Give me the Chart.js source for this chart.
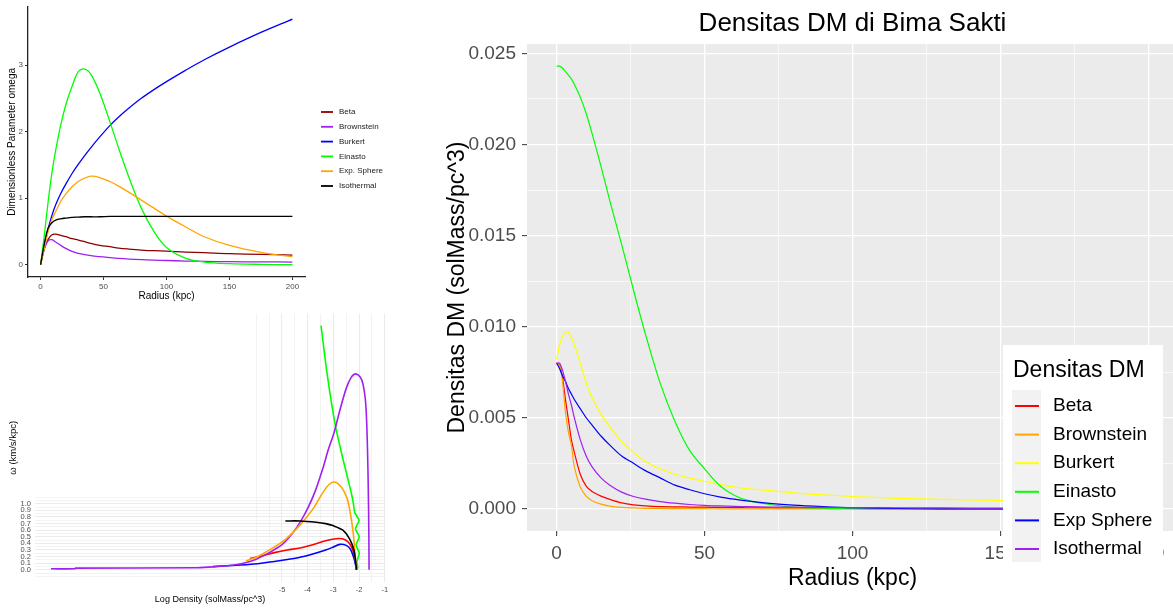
<!DOCTYPE html>
<html>
<head>
<meta charset="utf-8">
<script src="https://cdn.jsdelivr.net/npm/chart.js@4"></script>
<style>
  html, body { margin: 0; padding: 0; background: #fff; overflow: hidden; width: 1173px; height: 609px; }
  .box { position: absolute; }
</style>
</head>
<body>
<div class="box" style="left:0;top:0;width:400px;height:310px"><canvas id="omegaChart" width="400" height="310"></canvas></div>
<div class="box" style="left:0;top:305px;width:400px;height:304px"><canvas id="logChart" width="400" height="304"></canvas></div>
<div class="box" style="left:430px;top:0;width:760px;height:609px"><canvas id="densChart" width="760" height="609"></canvas></div>
<script>
// ---- omega vs radius (top left) ----
const omegaNames = ['Beta', 'Brownstein', 'Burkert', 'Einasto', 'Exp. Sphere', 'Isothermal'];
const omegaColors = ['#8B0000', '#A020F0', '#0000FF', '#00FF00', '#FFA500', '#000000'];
const omegaRadius = [0, 3, 6, 9, 12, 16, 20, 25, 30, 35, 40, 47, 55, 62, 70, 80, 90, 100, 115, 130, 150, 175, 200];
const omegaBeta = [0, 0.24, 0.38, 0.45, 0.46, 0.44, 0.42, 0.39, 0.37, 0.345, 0.32, 0.29, 0.27, 0.25, 0.235, 0.22, 0.21, 0.205, 0.19, 0.18, 0.165, 0.155, 0.145];
const omegaBrownstein = [0, 0.25, 0.36, 0.375, 0.34, 0.29, 0.245, 0.2, 0.17, 0.15, 0.135, 0.12, 0.105, 0.095, 0.085, 0.075, 0.068, 0.063, 0.055, 0.05, 0.045, 0.042, 0.04];
const omegaBurkert = [0, 0.3, 0.54, 0.74, 0.9, 1.07, 1.21, 1.37, 1.51, 1.64, 1.76, 1.92, 2.09, 2.22, 2.35, 2.5, 2.63, 2.75, 2.92, 3.08, 3.27, 3.49, 3.69];
const omegaEinasto = [0, 0.45, 0.95, 1.38, 1.72, 2.1, 2.4, 2.68, 2.9, 2.94, 2.86, 2.58, 2.15, 1.75, 1.32, 0.85, 0.5, 0.26, 0.1, 0.04, 0.015, 0.005, 0];
const omegaExpSphere = [0, 0.25, 0.5, 0.68, 0.8, 0.95, 1.06, 1.17, 1.25, 1.3, 1.33, 1.31, 1.25, 1.18, 1.09, 0.97, 0.85, 0.73, 0.57, 0.42, 0.29, 0.185, 0.12];
const omegaIsothermal = [0, 0.32, 0.55, 0.63, 0.67, 0.69, 0.70, 0.71, 0.715, 0.72, 0.72, 0.72, 0.725, 0.725, 0.725, 0.725, 0.725, 0.725, 0.725, 0.725, 0.725, 0.725, 0.725];
const omegaXTicks = [0, 50, 100, 150, 200];
const omegaYTicks = [0, 1, 2, 3];

// ---- omega vs log density (bottom left) ----
const logBetaX = [-6.25, -5.8, -5.3, -4.8, -4.3, -3.8, -3.3, -2.9, -2.65, -2.45, -2.3, -2.2, -2.14, -2.1];
const logBetaY = [0.17, 0.21, 0.26, 0.30, 0.33, 0.38, 0.44, 0.47, 0.47, 0.43, 0.35, 0.24, 0.12, 0];
const logBrownX = [-7.7, -7.0, -6.3, -5.8, -5.3, -4.8, -4.3, -3.8, -3.3, -3.0, -2.75, -2.5, -2.35, -2.22, -2.15, -2.1];
const logBrownY = [0.05, 0.065, 0.08, 0.1, 0.125, 0.155, 0.19, 0.24, 0.3, 0.345, 0.385, 0.37, 0.32, 0.2, 0.1, 0];
const logBurkertX = [-3.48, -3.38, -3.28, -3.15, -3.02, -2.9, -2.76, -2.63, -2.5, -2.4, -2.3, -2.22, -2.17, -2.0, -2.14, -1.99, -2.12, -1.99, -2.09, -2.05, -2.09];
const logBurkertY = [3.70, 3.38, 3.07, 2.72, 2.4, 2.14, 1.9, 1.68, 1.48, 1.32, 1.16, 1.0, 0.87, 0.75, 0.62, 0.5, 0.38, 0.25, 0.12, 0.04, 0];
const logEinastoX = [-14.0, -13.05, -13.05, -8.4, -7.7, -7.0, -6.5, -6.0, -5.5, -5.0, -4.6, -4.3, -4.0, -3.7, -3.4, -3.2, -2.98, -2.76, -2.5, -2.3, -2.13, -1.95, -1.85, -1.76, -1.71, -1.67, -1.64, -1.62, -1.61];
const logEinastoY = [0.015, 0.015, 0.025, 0.03, 0.045, 0.065, 0.1, 0.16, 0.26, 0.38, 0.55, 0.72, 0.93, 1.2, 1.55, 1.82, 2.07, 2.4, 2.75, 2.92, 2.97, 2.92, 2.82, 2.6, 2.3, 1.8, 1.2, 0.6, 0];
const logExpX = [-6.41, -6.0, -5.63, -5.2, -4.84, -4.32, -3.8, -3.41, -3.15, -2.96, -2.8, -2.63, -2.44, -2.24, -2.14, -2.1];
const logExpY = [0.135, 0.19, 0.27, 0.37, 0.47, 0.67, 0.92, 1.17, 1.3, 1.33, 1.3, 1.22, 1.05, 0.6, 0.15, 0];
const logIsoX = [-4.87, -4.3, -3.67, -3.3, -3.02, -2.63, -2.37, -2.2, -2.14, -2.1];
const logIsoY = [0.74, 0.74, 0.72, 0.7, 0.67, 0.6, 0.47, 0.3, 0.15, 0];
const logColors = ['#FF0000', '#0000FF', '#00FF00', '#A020F0', '#FFA500', '#000000'];
const logXTicks = [-5, -4, -3, -2, -1];
const logXGrid = [-6, -5.5, -5, -4.5, -4, -3.5, -3, -2.5, -2, -1.5, -1];
const logYTicks = [0, 0.1, 0.2, 0.3, 0.4, 0.5, 0.6, 0.7, 0.8, 0.9, 1.0];

// ---- Densitas DM (right) ----
const densNames = ['Beta', 'Brownstein', 'Burkert', 'Einasto', 'Exp Sphere', 'Isothermal'];
const densColors = ['#FF0000', '#FFA500', '#FFFF00', '#00FF00', '#0000FF', '#A020F0'];
const densRadius = [0, 1, 2, 3, 4, 5, 6, 8, 10, 12, 15, 18, 22, 26, 30, 35, 40, 45, 50, 55, 60, 65, 72, 80, 90, 100, 115, 130, 150, 175, 200];
const densBeta = [0.0080, 0.0079, 0.0072, 0.0060, 0.0049, 0.0038, 0.0031, 0.0019, 0.00125, 0.00095, 0.00070, 0.00052, 0.00033, 0.00022, 0.00016, 0.00012, 0.00011, 0.00010, 0.00009, 0.00008, 0.00007, 0.00006, 0.00005, 0.00004, 0.00003, 0.00002, 0.00001, 0, 0, 0, 0];
const densBrownstein = [0.0080, 0.0079, 0.0070, 0.0053, 0.0042, 0.0035, 0.0023, 0.0012, 0.0007, 0.00045, 0.00026, 0.00015, 0.00008, 0.00005, 0.00003, 0.00002, 0.00001, 0.00001, 0.00001, 0, 0, 0, 0, 0, 0, 0, 0, 0, 0, 0, 0];
const densBurkert = [0.0082, 0.0090, 0.0095, 0.0097, 0.0097, 0.0094, 0.0090, 0.0080, 0.0069, 0.0061, 0.0052, 0.0045, 0.0037, 0.0031, 0.0026, 0.0022, 0.0019, 0.0017, 0.0015, 0.00135, 0.0012, 0.0011, 0.0010, 0.00088, 0.00077, 0.00068, 0.00058, 0.00052, 0.00046, 0.00038, 0.00031];
const densEinasto = [0.0243, 0.0243, 0.0242, 0.0240, 0.0238, 0.0236, 0.0233, 0.0226, 0.0217, 0.0206, 0.0188, 0.0169, 0.0145, 0.0120, 0.0096, 0.0069, 0.0048, 0.0032, 0.0022, 0.0013, 0.00075, 0.00045, 0.00024, 0.0001, 0.00004, 0.00001, 0, 0, 0, 0, 0];
const densExpSphere = [0.0080, 0.0077, 0.0073, 0.0070, 0.0066, 0.0063, 0.0060, 0.0055, 0.0050, 0.0046, 0.0040, 0.0035, 0.0029, 0.0025, 0.0021, 0.0017, 0.0013, 0.00105, 0.00083, 0.00066, 0.00053, 0.00042, 0.0003, 0.0002, 0.00012, 0.00006, 0.00002, 0, 0, 0, 0];
const densIsothermal = [0.0080, 0.0080, 0.0076, 0.0070, 0.0063, 0.0057, 0.0050, 0.0038, 0.0029, 0.0023, 0.0017, 0.0013, 0.00092, 0.00068, 0.00053, 0.00040, 0.00031, 0.00024, 0.00019, 0.00016, 0.00014, 0.00012, 0.0001, 0.00009, 0.00008, 0.00007, 0.00006, 0.00005, 0.00004, 0.00003, 0.00003];
const densXTicks = [0, 50, 100, 150, 200];
const densYTicks = [0, 0.005, 0.01, 0.015, 0.02, 0.025];

const FONT = "'Liberation Sans', Arial, Helvetica, sans-serif";
Chart.defaults.font.family = FONT;
Chart.defaults.animation = false;
Chart.defaults.plugins.legend.display = false;
Chart.defaults.plugins.tooltip.enabled = false;

const zip = (xs, ys) => xs.map((x, i) => ({ x: x, y: ys[i] }));
const near = (list, v) => list.some(t => Math.abs(t - v) < 1e-9);
const withMids = list => {
  const out = [];
  list.forEach((t, i) => { out.push(t); if (i < list.length - 1) out.push((t + list[i + 1]) / 2); });
  return out;
};

// grey panel behind the grid
const panelBg = {
  id: 'panelBg',
  beforeDraw(chart, args, opts) {
    if (!opts.color) return;
    const a = chart.chartArea, ctx = chart.ctx;
    ctx.save();
    ctx.fillStyle = opts.color;
    ctx.fillRect(a.left, a.top, a.right - a.left, a.bottom - a.top);
    ctx.restore();
  }
};

// ggplot-like legend drawn from the datasets
function makeLegend(cfg) {
  return {
    id: 'keyLegend',
    afterDraw(chart) {
      const ctx = chart.ctx;
      ctx.save();
      if (cfg.box) {
        ctx.fillStyle = '#FFFFFF';
        ctx.fillRect(cfg.box.x, cfg.box.y, cfg.box.w, cfg.box.h);
      }
      if (cfg.title) {
        ctx.fillStyle = '#000';
        ctx.font = cfg.titleFont;
        ctx.textBaseline = 'middle';
        ctx.fillText(cfg.title, cfg.titleX, cfg.titleY);
      }
      if (cfg.keyBg) {
        ctx.fillStyle = cfg.keyBg.color;
        ctx.fillRect(cfg.keyBg.x, cfg.keyBg.y, cfg.keyBg.w, cfg.keyBg.h);
      }
      chart.data.datasets.forEach((ds, i) => {
        const y = cfg.y0 + i * cfg.step;
        ctx.strokeStyle = ds.borderColor;
        ctx.lineWidth = cfg.lineWidth;
        ctx.beginPath();
        ctx.moveTo(cfg.x0, y);
        ctx.lineTo(cfg.x1, y);
        ctx.stroke();
        ctx.fillStyle = cfg.textColor;
        ctx.font = cfg.font;
        ctx.textBaseline = 'middle';
        ctx.fillText(ds.label, cfg.textX, y);
      });
      ctx.restore();
    }
  };
}

// ---------- top left ----------
const omegaSeries = [omegaBeta, omegaBrownstein, omegaBurkert, omegaEinasto, omegaExpSphere, omegaIsothermal];
new Chart(document.getElementById('omegaChart'), {
  type: 'line',
  data: {
    datasets: omegaSeries.map((vals, i) => ({
      label: omegaNames[i],
      data: zip(omegaRadius, vals),
      borderColor: omegaColors[i],
      borderWidth: 1.3,
      pointRadius: 0,
      tension: 0.35,
      order: omegaSeries.length - i
    }))
  },
  options: {
    responsive: false,
    layout: { padding: { top: 6, right: 95, bottom: 0, left: 0 } },
    scales: {
      x: {
        type: 'linear', min: -10, max: 210,
        afterBuildTicks: s => { s.ticks = omegaXTicks.map(v => ({ value: v })); },
        afterFit: s => { s.height = 33; },
        ticks: { autoSkip: false, maxRotation: 0, color: '#4D4D4D', font: { size: 8 }, padding: 2 },
        grid: { drawOnChartArea: false, tickLength: 3, tickColor: '#333', tickWidth: 1 },
        border: { display: true, color: '#222', width: 1.3 },
        title: { display: true, text: 'Radius (kpc)', color: '#000', font: { size: 10 }, padding: { top: 0, bottom: 8 } }
      },
      y: {
        type: 'linear', min: -0.185, max: 3.875,
        afterBuildTicks: s => { s.ticks = omegaYTicks.map(v => ({ value: v })); },
        afterFit: s => { s.width = 28; },
        ticks: { autoSkip: false, color: '#4D4D4D', font: { size: 8 }, padding: 2 },
        grid: { drawOnChartArea: false, tickLength: 3, tickColor: '#333', tickWidth: 1 },
        border: { display: true, color: '#222', width: 1.3 },
        title: { display: true, text: 'Dimensionless Parameter omega', color: '#000', font: { size: 10 }, padding: { top: 6, bottom: 0 } }
      }
    }
  },
  plugins: [makeLegend({
    y0: 112, step: 14.8, x0: 321, x1: 333, textX: 339, lineWidth: 1.8,
    font: '8px ' + FONT, textColor: '#1A1A1A'
  })]
});

// ---------- bottom left ----------
const logSeries = [[logBetaX, logBetaY], [logBrownX, logBrownY], [logBurkertX, logBurkertY],
                   [logEinastoX, logEinastoY], [logExpX, logExpY], [logIsoX, logIsoY]];
const logYGrid = [-0.1, -0.05].concat(withMids(logYTicks), [1.05, 1.1]);
new Chart(document.getElementById('logChart'), {
  type: 'line',
  data: {
    datasets: logSeries.map((s, i) => ({
      label: omegaNames[i],
      data: zip(s[0], s[1]),
      borderColor: logColors[i],
      borderWidth: 1.6,
      pointRadius: 0,
      tension: i === 2 ? 0.15 : 0.3,
      order: logSeries.length - i
    }))
  },
  options: {
    responsive: false,
    layout: { padding: { top: 6, right: 15, bottom: 0, left: 0 } },
    scales: {
      x: {
        type: 'linear', min: -14.62, max: -0.99,
        afterBuildTicks: s => { s.ticks = logXGrid.map(v => ({ value: v })); },
        afterFit: s => { s.height = 27; },
        ticks: { autoSkip: false, maxRotation: 0, color: '#4D4D4D', font: { size: 7.5 }, padding: 3,
                 callback: v => near(logXTicks, v) ? String(v) : '' },
        grid: { drawTicks: false, color: '#EBEBEB', lineWidth: c => near(logXTicks, c.tick.value) ? 1.1 : 0.6 },
        border: { display: false },
        title: { display: true, text: 'Log Density (solMass/pc^3)', color: '#000', font: { size: 9 }, padding: { top: 0, bottom: 4 } }
      },
      y: {
        type: 'linear', min: -0.185, max: 3.885,
        afterBuildTicks: s => { s.ticks = logYGrid.map(v => ({ value: v })); },
        afterFit: s => { s.width = 35; },
        ticks: { autoSkip: false, color: '#4D4D4D', font: { size: 7.5 }, padding: 4,
                 callback: v => near(logYTicks, v) ? v.toFixed(1) : '' },
        grid: { drawTicks: false, color: '#EBEBEB', lineWidth: c => near(logYTicks, c.tick.value) ? 1.1 : 0.6 },
        border: { display: false },
        title: { display: true, text: 'ω (km/s/kpc)', color: '#000', font: { size: 9.5 }, padding: { top: 8, bottom: 0 } }
      }
    }
  }
});

// ---------- right: Densitas DM ----------
const densSeries = [densBeta, densBrownstein, densBurkert, densEinasto, densExpSphere, densIsothermal];
const densXGrid = withMids(densXTicks);
const densYGrid = withMids(densYTicks);
new Chart(document.getElementById('densChart'), {
  type: 'line',
  data: {
    datasets: densSeries.map((vals, i) => ({
      label: densNames[i],
      data: zip(densRadius, vals),
      borderColor: densColors[i],
      borderWidth: 1.2,
      pointRadius: 0,
      tension: 0.3,
      order: densSeries.length - i
    }))
  },
  options: {
    responsive: false,
    layout: { padding: { top: 0, right: 12, bottom: 0, left: 0 } },
    plugins: {
      panelBg: { color: '#EBEBEB' },
      title: {
        display: true, text: 'Densitas DM di Bima Sakti', color: '#000', fullSize: false,
        font: { size: 26, weight: 'normal', lineHeight: 1.0 }, padding: { top: 11, bottom: 7 }
      }
    },
    scales: {
      x: {
        type: 'linear', min: -10, max: 210,
        afterBuildTicks: s => { s.ticks = densXGrid.map(v => ({ value: v })); },
        afterFit: s => { s.height = 78; },
        ticks: { autoSkip: false, maxRotation: 0, color: '#4D4D4D', font: { size: 19 }, padding: 6,
                 callback: v => near(densXTicks, v) ? String(v) : '' },
        grid: {
          color: '#FFFFFF', tickLength: 5, tickWidth: 1,
          lineWidth: c => near(densXTicks, c.tick.value) ? 1.3 : 0.65,
          tickColor: c => near(densXTicks, c.tick.value) ? '#333333' : 'rgba(0,0,0,0)'
        },
        border: { display: false },
        title: { display: true, text: 'Radius (kpc)', color: '#000', font: { size: 23 }, padding: { top: 0, bottom: 17 } }
      },
      y: {
        type: 'linear', min: -0.001215, max: 0.025515,
        afterBuildTicks: s => { s.ticks = densYGrid.map(v => ({ value: v })); },
        afterFit: s => { s.width = 97; },
        ticks: { autoSkip: false, color: '#4D4D4D', font: { size: 19 }, padding: 6,
                 callback: v => near(densYTicks, v) ? v.toFixed(3) : '' },
        grid: {
          color: '#FFFFFF', tickLength: 5, tickWidth: 1,
          lineWidth: c => near(densYTicks, c.tick.value) ? 1.3 : 0.65,
          tickColor: c => near(densYTicks, c.tick.value) ? '#333333' : 'rgba(0,0,0,0)'
        },
        border: { display: false },
        title: { display: true, text: 'Densitas DM (solMass/pc^3)', color: '#000', font: { size: 23 }, padding: { top: 14, bottom: 0 } }
      }
    }
  },
  plugins: [panelBg, makeLegend({
    box: { x: 573, y: 345, w: 160, h: 222 },
    title: 'Densitas DM', titleFont: '23px ' + FONT, titleX: 583, titleY: 371,
    keyBg: { color: '#F2F2F2', x: 582, y: 390, w: 29, h: 172 },
    y0: 406, step: 28.6, x0: 585, x1: 609, textX: 623, lineWidth: 2,
    font: '19px ' + FONT, textColor: '#000'
  })]
});
</script>
</body>
</html>
